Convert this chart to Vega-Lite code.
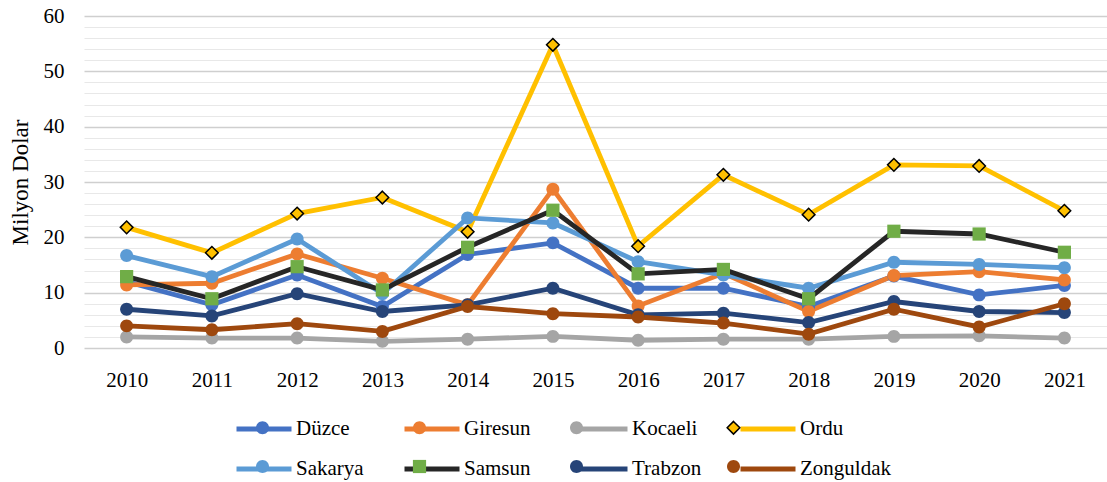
{
  "$schema": "https://vega.github.io/schema/vega-lite/v6.json",
  "autosize": "none",
  "width": 1023,
  "height": 332,
  "padding": {"left": 84, "top": 16, "right": 0, "bottom": 134},
  "background": "white",
  "config": {
    "view": {"stroke": null},
    "font": "Liberation Serif"
  },
  "data": {"values": [
    {"yil":"2010","il":"Düzce","v":12.0},{"yil":"2011","il":"Düzce","v":7.8},{"yil":"2012","il":"Düzce","v":13.2},{"yil":"2013","il":"Düzce","v":7.5},{"yil":"2014","il":"Düzce","v":16.9},{"yil":"2015","il":"Düzce","v":19.0},{"yil":"2016","il":"Düzce","v":10.8},{"yil":"2017","il":"Düzce","v":10.8},{"yil":"2018","il":"Düzce","v":7.5},{"yil":"2019","il":"Düzce","v":13.0},{"yil":"2020","il":"Düzce","v":9.6},{"yil":"2021","il":"Düzce","v":11.3},
    {"yil":"2010","il":"Giresun","v":11.4},{"yil":"2011","il":"Giresun","v":11.7},{"yil":"2012","il":"Giresun","v":17.0},{"yil":"2013","il":"Giresun","v":12.6},{"yil":"2014","il":"Giresun","v":7.8},{"yil":"2015","il":"Giresun","v":28.7},{"yil":"2016","il":"Giresun","v":7.6},{"yil":"2017","il":"Giresun","v":13.5},{"yil":"2018","il":"Giresun","v":6.6},{"yil":"2019","il":"Giresun","v":13.1},{"yil":"2020","il":"Giresun","v":13.8},{"yil":"2021","il":"Giresun","v":12.3},
    {"yil":"2010","il":"Kocaeli","v":2.0},{"yil":"2011","il":"Kocaeli","v":1.8},{"yil":"2012","il":"Kocaeli","v":1.8},{"yil":"2013","il":"Kocaeli","v":1.2},{"yil":"2014","il":"Kocaeli","v":1.6},{"yil":"2015","il":"Kocaeli","v":2.1},{"yil":"2016","il":"Kocaeli","v":1.4},{"yil":"2017","il":"Kocaeli","v":1.6},{"yil":"2018","il":"Kocaeli","v":1.6},{"yil":"2019","il":"Kocaeli","v":2.1},{"yil":"2020","il":"Kocaeli","v":2.2},{"yil":"2021","il":"Kocaeli","v":1.8},
    {"yil":"2010","il":"Ordu","v":21.8},{"yil":"2011","il":"Ordu","v":17.2},{"yil":"2012","il":"Ordu","v":24.3},{"yil":"2013","il":"Ordu","v":27.2},{"yil":"2014","il":"Ordu","v":21.0},{"yil":"2015","il":"Ordu","v":54.8},{"yil":"2016","il":"Ordu","v":18.4},{"yil":"2017","il":"Ordu","v":31.3},{"yil":"2018","il":"Ordu","v":24.1},{"yil":"2019","il":"Ordu","v":33.1},{"yil":"2020","il":"Ordu","v":32.9},{"yil":"2021","il":"Ordu","v":24.8},
    {"yil":"2010","il":"Sakarya","v":16.7},{"yil":"2011","il":"Sakarya","v":12.9},{"yil":"2012","il":"Sakarya","v":19.7},{"yil":"2013","il":"Sakarya","v":9.8},{"yil":"2014","il":"Sakarya","v":23.5},{"yil":"2015","il":"Sakarya","v":22.6},{"yil":"2016","il":"Sakarya","v":15.6},{"yil":"2017","il":"Sakarya","v":13.2},{"yil":"2018","il":"Sakarya","v":10.8},{"yil":"2019","il":"Sakarya","v":15.5},{"yil":"2020","il":"Sakarya","v":15.1},{"yil":"2021","il":"Sakarya","v":14.5},
    {"yil":"2010","il":"Samsun","v":12.9},{"yil":"2011","il":"Samsun","v":8.9},{"yil":"2012","il":"Samsun","v":14.7},{"yil":"2013","il":"Samsun","v":10.5},{"yil":"2014","il":"Samsun","v":18.2},{"yil":"2015","il":"Samsun","v":24.9},{"yil":"2016","il":"Samsun","v":13.4},{"yil":"2017","il":"Samsun","v":14.2},{"yil":"2018","il":"Samsun","v":8.9},{"yil":"2019","il":"Samsun","v":21.1},{"yil":"2020","il":"Samsun","v":20.6},{"yil":"2021","il":"Samsun","v":17.3},
    {"yil":"2010","il":"Trabzon","v":7.0},{"yil":"2011","il":"Trabzon","v":5.8},{"yil":"2012","il":"Trabzon","v":9.8},{"yil":"2013","il":"Trabzon","v":6.6},{"yil":"2014","il":"Trabzon","v":7.8},{"yil":"2015","il":"Trabzon","v":10.8},{"yil":"2016","il":"Trabzon","v":6.0},{"yil":"2017","il":"Trabzon","v":6.3},{"yil":"2018","il":"Trabzon","v":4.6},{"yil":"2019","il":"Trabzon","v":8.4},{"yil":"2020","il":"Trabzon","v":6.6},{"yil":"2021","il":"Trabzon","v":6.4},
    {"yil":"2010","il":"Zonguldak","v":4.0},{"yil":"2011","il":"Zonguldak","v":3.3},{"yil":"2012","il":"Zonguldak","v":4.4},{"yil":"2013","il":"Zonguldak","v":3.0},{"yil":"2014","il":"Zonguldak","v":7.5},{"yil":"2015","il":"Zonguldak","v":6.2},{"yil":"2016","il":"Zonguldak","v":5.6},{"yil":"2017","il":"Zonguldak","v":4.5},{"yil":"2018","il":"Zonguldak","v":2.5},{"yil":"2019","il":"Zonguldak","v":7.0},{"yil":"2020","il":"Zonguldak","v":3.8},{"yil":"2021","il":"Zonguldak","v":8.0}
  ]},
  "encoding": {
    "x": {
      "field": "yil", "type": "ordinal",
      "scale": {"type": "point", "padding": 0.5},
      "axis": {"title": null, "labelAngle": 0, "labelFont": "Liberation Serif", "labelFontSize": 21, "labelColor": "#000", "labelPadding": 21, "ticks": false, "tickSize": 0, "domain": false, "grid": false}
    },
    "y": {
      "field": "v", "type": "quantitative",
      "scale": {"domain": [0, 60], "nice": false, "zero": true},
      "axis": {
        "title": "Milyon Dolar", "titleFont": "Liberation Serif", "titleFontSize": 23, "titleFontWeight": "normal", "titleColor": "#000", "titlePadding": 11,
        "values": [0,2,4,6,8,10,12,14,16,18,20,22,24,26,28,30,32,34,36,38,40,42,44,46,48,50,52,54,56,58,60],
        "labelExpr": "datum.value % 10 === 0 ? datum.label : ''",
        "labelFont": "Liberation Serif", "labelFontSize": 21, "labelColor": "#000", "labelPadding": 20,
        "ticks": false, "tickSize": 0, "domain": false,
        "grid": true,
        "gridColor": {"condition": {"test": "datum.value % 10 === 0", "value": "#cfcfcf"}, "value": "#e8e8e8"},
        "gridWidth": {"condition": {"test": "datum.value % 10 === 0", "value": 1.5}, "value": 1.2}
      }
    }
  },
  "layer": [
    {
      "mark": {"type": "line", "strokeWidth": 4.8},
      "encoding": {
        "color": {
          "field": "il", "type": "nominal",
          "scale": {
            "domain": ["Düzce","Giresun","Kocaeli","Ordu","Sakarya","Samsun","Trabzon","Zonguldak"],
            "range": ["#4472C4","#ED7D31","#A5A5A5","#FFC000","#5B9BD5","#262626","#264478","#9E480E"]
          },
          "legend": {
            "title": null, "orient": "none", "legendX": 150, "legendY": 383,
            "columns": 4, "direction": "horizontal", "gridAlign": "all",
            "columnPadding": 7, "rowPadding": 0, "padding": 0,
            "symbolType": "stroke", "symbolSize": 3025, "symbolStrokeWidth": 5,
            "labelFont": "Liberation Serif", "labelFontSize": 21, "labelColor": "#000", "labelOffset": 2
          }
        }
      }
    },
    {
      "mark": {"type": "point", "filled": true, "size": 3025, "strokeWidth": 1.5, "opacity": 1},
      "encoding": {
        "fill": {
          "field": "il", "type": "nominal",
          "scale": {"range": ["#4472C4","#ED7D31","#A5A5A5","#FFC000","#5B9BD5","#70AD47","#264478","#9E480E"]},
          "legend": {
            "title": null, "orient": "none", "legendX": 150, "legendY": 383,
            "columns": 4, "direction": "horizontal", "gridAlign": "all",
            "columnPadding": 7, "rowPadding": 0, "padding": 0,
            "symbolSize": 3025, "symbolStrokeWidth": 1.5,
            "labelFont": "Liberation Serif", "labelFontSize": 21, "labelColor": "transparent", "labelOpacity": 0, "labelOffset": 2
          }
        },
        "shape": {
          "field": "il", "type": "nominal",
          "scale": {"range": [
            "M 0.236 0 A 0.236 0.236 0 1 1 -0.236 0 A 0.236 0.236 0 1 1 0.236 0 Z",
            "M 0.236 0 A 0.236 0.236 0 1 1 -0.236 0 A 0.236 0.236 0 1 1 0.236 0 Z",
            "M 0.236 0 A 0.236 0.236 0 1 1 -0.236 0 A 0.236 0.236 0 1 1 0.236 0 Z",
            "M 0 -0.23 L 0.23 0 L 0 0.23 L -0.23 0 Z",
            "M 0.236 0 A 0.236 0.236 0 1 1 -0.236 0 A 0.236 0.236 0 1 1 0.236 0 Z",
            "M -0.24 -0.24 H 0.24 V 0.24 H -0.24 Z",
            "M 0.236 0 A 0.236 0.236 0 1 1 -0.236 0 A 0.236 0.236 0 1 1 0.236 0 Z",
            "M 0.236 0 A 0.236 0.236 0 1 1 -0.236 0 A 0.236 0.236 0 1 1 0.236 0 Z"
          ]},
          "legend": {
            "title": null, "orient": "none", "legendX": 150, "legendY": 383,
            "columns": 4, "direction": "horizontal", "gridAlign": "all",
            "columnPadding": 7, "rowPadding": 0, "padding": 0,
            "symbolSize": 3025, "symbolStrokeWidth": 1.5,
            "labelFont": "Liberation Serif", "labelFontSize": 21, "labelColor": "transparent", "labelOpacity": 0, "labelOffset": 2
          }
        },
        "stroke": {
          "field": "il", "type": "nominal",
          "scale": {"range": ["transparent","transparent","transparent","#000000","transparent","transparent","transparent","transparent"]},
          "legend": {
            "title": null, "orient": "none", "legendX": 150, "legendY": 383,
            "columns": 4, "direction": "horizontal", "gridAlign": "all",
            "columnPadding": 7, "rowPadding": 0, "padding": 0,
            "symbolSize": 3025, "symbolStrokeWidth": 1.5,
            "labelFont": "Liberation Serif", "labelFontSize": 21, "labelColor": "transparent", "labelOpacity": 0, "labelOffset": 2
          }
        }
      }
    }
  ]
}
